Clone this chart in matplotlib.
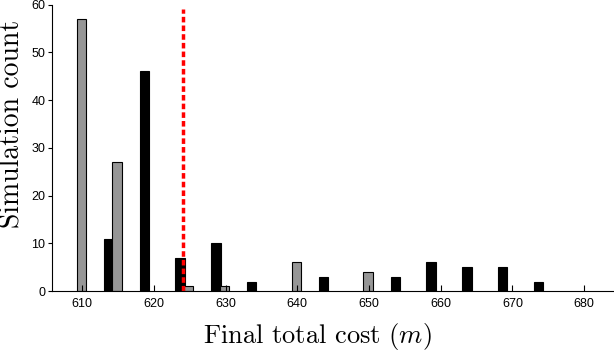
import matplotlib
matplotlib.use('Agg')
import matplotlib.pyplot as plt

# bin centres of the grouped histogram (final total cost)
black_x = [613.65, 618.65, 623.65, 628.65, 633.65, 643.65, 653.65, 658.65, 663.65, 668.65, 673.65]
black_counts = [11, 46, 7, 10, 2, 3, 3, 6, 5, 5, 2]
gray_x = [609.85, 614.85, 624.85, 629.85, 639.85, 649.85]
gray_counts = [57, 27, 1, 1, 6, 4]
reference_cost = 624.0

x_ticks = [610, 620, 630, 640, 650, 660, 670, 680]
y_ticks = [0, 10, 20, 30, 40, 50, 60]

plt.rcParams['mathtext.fontset'] = 'cm'

fig = plt.figure(figsize=(6.14, 3.52), dpi=100)
ax = fig.add_axes([0.085, 0.173, 0.913, 0.814])

ax.bar(black_x, black_counts, width=1.3, color='black', edgecolor='black', linewidth=0.8)
ax.bar(gray_x, gray_counts, width=1.3, color='#969696', edgecolor='black', linewidth=0.8)
ax.plot([reference_cost, reference_cost], [0, 59], color='#ff0000', linestyle=(0, (1.6, 0.9)), linewidth=2.5)

ax.set_xlim(605.8, 684)
ax.set_ylim(0, 60)
ax.set_xticks(x_ticks)
ax.set_yticks(y_ticks)

for side in ['top', 'right']:
    ax.spines[side].set_visible(False)

ax.tick_params(axis='x', direction='in', length=4, labelsize=9, pad=5)
ax.tick_params(axis='y', direction='out', length=3, labelsize=9, pad=2)
for lbl in ax.get_xticklabels() + ax.get_yticklabels():
    lbl.set_fontfamily('Liberation Sans')

ax.set_xlabel('Final total cost ($m$)', fontfamily='cmr10', fontsize=19)
ax.set_ylabel('Simulation count', fontfamily='cmr10', fontsize=20)
ax.xaxis.set_label_coords(0.473, -0.105)
ax.yaxis.set_label_coords(-0.047, 0.585)

fig.savefig('out.png', dpi=100)
